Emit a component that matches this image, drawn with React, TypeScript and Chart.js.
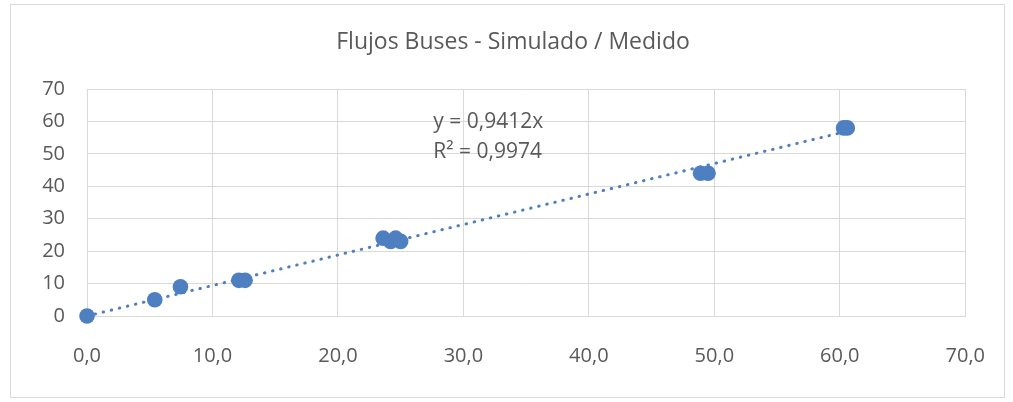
import React, { useEffect, useRef } from "react";
import { Chart, registerables } from "chart.js";

Chart.register(...registerables);

const titleText = "Flujos Buses - Simulado / Medido";
const simulado = [0, 5.4, 7.45, 12.1, 12.6, 23.6, 24.2, 24.6, 25.0, 48.9, 49.5, 60.3, 60.6];
const medido = [0, 5, 9, 11, 11, 24, 23, 24, 23, 44, 44, 58, 58];
const trendX = [0, 60.5];
const trendY = [0, 56.9];
const equationLines = ["y = 0,9412x", "R² = 0,9974"];
const xTicks = [0, 10, 20, 30, 40, 50, 60, 70];
const yTicks = [0, 10, 20, 30, 40, 50, 60, 70];

const FONT = "'Open Sans', sans-serif";
const TEXT = "#595959";
const GRID = "#d9d9d9";
const BLUE = "#4e7fc0";

export default function App() {
  const ref = useRef<HTMLCanvasElement | null>(null);
  useEffect(() => {
    if (!ref.current) return;
    const framePlugin = {
      id: "frame",
      beforeDraw(chart: any) {
        const { ctx } = chart;
        ctx.save();
        ctx.fillStyle = "#ffffff";
        ctx.fillRect(0, 0, chart.width, chart.height);
        ctx.strokeStyle = GRID;
        ctx.lineWidth = 1;
        ctx.strokeRect(10.5, 4.5, 994, 393);
        ctx.fillStyle = TEXT;
        ctx.font = `23px ${FONT}`;
        ctx.textAlign = "center";
        ctx.textBaseline = "middle";
        ctx.fillText(titleText, 513, 42);
        ctx.restore();
      },
      afterDatasetsDraw(chart: any) {
        const { ctx } = chart;
        const xs = chart.scales.x;
        const ys = chart.scales.y;
        ctx.save();
        ctx.fillStyle = TEXT;
        ctx.font = `21px ${FONT}`;
        ctx.textAlign = "left";
        ctx.textBaseline = "middle";
        const x0 = xs.getPixelForValue(27.6);
        ctx.fillText(equationLines[0], x0, ys.getPixelForValue(59.8));
        ctx.fillText(equationLines[1], x0, ys.getPixelForValue(50.6));
        ctx.restore();
      },
    };
    const chart = new Chart(ref.current, {
      type: "scatter",
      data: {
        datasets: [
          {
            type: "line",
            data: trendX.map((x, i) => ({ x, y: trendY[i] })),
            borderColor: BLUE,
            borderWidth: 3,
            borderDash: [0.5, 7.8],
            borderCapStyle: "round",
            pointRadius: 0,
            fill: false,
            clip: false,
            order: 2,
          } as any,
          {
            data: simulado.map((x, i) => ({ x, y: medido[i] })),
            backgroundColor: BLUE,
            borderColor: BLUE,
            pointRadius: 7.8,
            borderWidth: 0,
            clip: false,
            order: 1,
          },
        ],
      },
      options: {
        animation: false,
        responsive: false,
        layout: { padding: { left: 10, right: 47, top: 89, bottom: 0 } },
        plugins: {
          legend: { display: false },
          tooltip: { enabled: false },
          title: { display: false },
        },
        scales: {
          x: {
            type: "linear",
            min: 0,
            max: 70,
            afterBuildTicks(scale: any) {
              scale.ticks = xTicks.map((v) => ({ value: v }));
            },
            afterFit(scale: any) {
              scale.height = 86;
            },
            grid: { color: GRID, lineWidth: 1, drawTicks: false },
            border: { color: GRID },
            ticks: {
              color: TEXT,
              padding: 28,
              font: { family: FONT, size: 20 },
              callback: (v: any) => Number(v).toFixed(1).replace(".", ","),
            },
          },
          y: {
            type: "linear",
            min: 0,
            max: 70,
            afterBuildTicks(scale: any) {
              scale.ticks = yTicks.map((v) => ({ value: v }));
            },
            afterFit(scale: any) {
              scale.width = 77;
            },
            grid: { color: GRID, lineWidth: 1, drawTicks: false },
            border: { color: GRID },
            ticks: {
              color: TEXT,
              padding: 22,
              font: { family: FONT, size: 20 },
              callback: (v: any) => String(v),
            },
          },
        },
      },
      plugins: [framePlugin],
    } as any);
    return () => chart.destroy();
  }, []);
  return (
    <div style={{ position: "absolute", left: 0, top: 0, width: 1013, height: 402 }}>
      <canvas ref={ref} width={1013} height={402} style={{ display: "block" }} />
    </div>
  );
}
